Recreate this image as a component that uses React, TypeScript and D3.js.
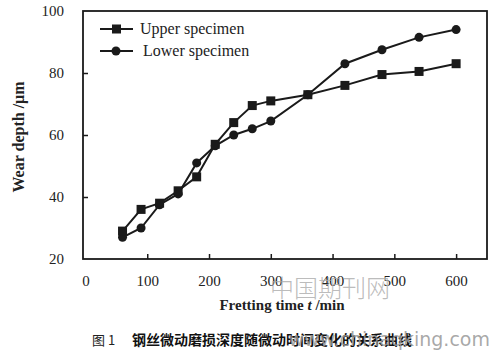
import React, { useEffect, useRef } from "react";
import * as d3 from "d3";

const times = [60, 90, 120, 150, 180, 210, 240, 270, 300, 360, 420, 480, 540, 600];
const upperDepth = [29, 36, 38, 42, 46.5, 57, 64, 69.5, 71, 73, 76, 79.5, 80.5, 83];
const lowerDepth = [27, 30, 37.5, 41, 51, 56.5, 60, 62, 64.5, 73, 83, 87.5, 91.5, 94];
const xTicks = [0, 100, 200, 300, 400, 500, 600];
const yTicks = [20, 40, 60, 80, 100];
const seriesNames = ["Upper specimen", "Lower specimen"];

const App = () => {
  const svgRef = useRef<SVGSVGElement>(null);

  useEffect(() => {
    document.body.style.margin = "0";
    const width = 498;
    const height = 352;
    const svg = d3.select(svgRef.current)
      .attr("width", width)
      .attr("height", height)
      .style("display", "block")
      .style("background", "#fff");
    svg.selectAll("*").remove();

    const serif = "'Liberation Serif', 'Times New Roman', serif";
    const ink = "#1a1a1a";

    const x = d3.scaleLinear().domain([-4, 650]).range([83, 487]);
    const y = d3.scaleLinear().domain([20, 100]).range([259, 11]);

    // frame
    svg.append("rect")
      .attr("x", x(-4)).attr("y", y(100))
      .attr("width", x(650) - x(-4)).attr("height", y(20) - y(100))
      .attr("fill", "none").attr("stroke", ink).attr("stroke-width", 1.8);

    const xAxis = svg.append("g")
      .attr("transform", `translate(0,${y(20)})`)
      .call(d3.axisBottom(x).tickValues(xTicks).tickSize(-5).tickPadding(16));
    const yAxis = svg.append("g")
      .attr("transform", `translate(${x(-4)},0)`)
      .call(d3.axisLeft(y).tickValues(yTicks).tickSize(-5).tickPadding(19));
    [xAxis, yAxis].forEach(a => {
      a.select(".domain").remove();
      a.selectAll("line").attr("stroke", ink).attr("stroke-width", 1.5);
      a.selectAll("text")
        .style("font-family", serif)
        .style("font-size", "15px")
        .attr("fill", "#222");
    });
    xAxis.selectAll(".tick").filter((d: any) => d === 0).select("line").remove();
    yAxis.selectAll(".tick").filter((d: any) => d === 20 || d === 100).select("line").remove();

    const line = d3.line<number>()
      .x((_, i) => x(times[i]))
      .y(d => y(d));

    const drawSeries = (vals: number[], kind: string) => {
      svg.append("path")
        .datum(vals)
        .attr("d", line)
        .attr("fill", "none")
        .attr("stroke", ink)
        .attr("stroke-width", 2);
      if (kind === "square") {
        svg.selectAll(null).data(vals).enter().append("rect")
          .attr("x", (_, i) => x(times[i]) - 4.5)
          .attr("y", d => y(d) - 4.5)
          .attr("width", 9).attr("height", 9)
          .attr("fill", ink);
      } else {
        svg.selectAll(null).data(vals).enter().append("circle")
          .attr("cx", (_, i) => x(times[i]))
          .attr("cy", d => y(d))
          .attr("r", 4.5)
          .attr("fill", ink);
      }
    };
    drawSeries(lowerDepth, "circle");
    drawSeries(upperDepth, "square");

    // legend
    const legend = svg.append("g");
    seriesNames.forEach((name, i) => {
      const ly = 29 + i * 22;
      legend.append("line")
        .attr("x1", 100).attr("x2", 133).attr("y1", ly).attr("y2", ly)
        .attr("stroke", ink).attr("stroke-width", 2);
      if (i === 0) {
        legend.append("rect").attr("x", 112).attr("y", ly - 4.5)
          .attr("width", 9).attr("height", 9).attr("fill", ink);
      } else {
        legend.append("circle").attr("cx", 116).attr("cy", ly).attr("r", 4.5).attr("fill", ink);
      }
      legend.append("text")
        .attr("x", 140 + i * 3).attr("y", ly + 5)
        .style("font-family", serif).style("font-size", "16px")
        .attr("fill", "#222")
        .text(name);
    });

    // axis titles
    const xt = svg.append("text")
      .attr("x", 282).attr("y", 310)
      .attr("text-anchor", "middle")
      .style("font-family", serif).style("font-size", "15px").style("font-weight", "bold")
      .attr("fill", "#222");
    xt.append("tspan").text("Fretting time ");
    xt.append("tspan").style("font-style", "italic").text("t");
    xt.append("tspan").text(" /min");

    svg.append("text")
      .attr("transform", "translate(24,137) rotate(-90)")
      .attr("text-anchor", "middle")
      .style("font-family", serif).style("font-size", "16px").style("font-weight", "bold")
      .attr("fill", "#222")
      .text("Wear  depth /μm");

    // watermark
    svg.append("text")
      .attr("x", 270).attr("y", 297)
      .style("font-family", "'Noto Sans CJK SC', sans-serif").style("font-size", "24px")
      .style("font-weight", "300")
      .attr("fill", "#aaa").attr("fill-opacity", 0.8)
      .text("中国期刊网");

    // caption
    svg.append("text")
      .attr("x", 92).attr("y", 345)
      .style("font-family", "'Noto Sans CJK SC', sans-serif").style("font-size", "13px")
      .attr("fill", "#222")
      .text("图 1");
    svg.append("text")
      .attr("x", 132).attr("y", 345)
      .style("font-family", "'Noto Sans CJK SC', sans-serif").style("font-size", "14px")
      .style("font-weight", "bold")
      .attr("fill", "#111")
      .text("钢丝微动磨损深度随微动时间变化的关系曲线");
    svg.append("text")
      .attr("x", 490).attr("y", 346)
      .attr("text-anchor", "end")
      .style("font-family", "'DejaVu Sans', sans-serif").style("font-size", "19px")
      .attr("fill", "#999").attr("fill-opacity", 0.85)
      .text("www.chinaqking.com");
  }, []);

  return (
    <div style={{ position: "relative" }}>
      <svg ref={svgRef}></svg>
    </div>
  );
};

export default App;
